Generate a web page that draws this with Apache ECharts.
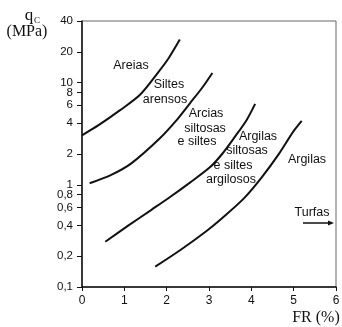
<!DOCTYPE html>
<html>
<head>
<meta charset="utf-8">
<script src="https://cdn.jsdelivr.net/npm/echarts@6/dist/echarts.min.js"></script>
<style>
  html, body { margin: 0; padding: 0; background: #fff; }
  #chart { width: 342px; height: 327px; }
</style>
</head>
<body>
<div id="chart"></div>
<script>
// valores (FR em %, qc em MPa)
var xTicks = [0, 1, 2, 3, 4, 5, 6];
var yTicks = [0.1, 0.2, 0.4, 0.6, 0.8, 1, 2, 4, 6, 8, 10, 20, 40];

var areiasX = [0, 0.40, 0.90, 1.37, 1.80, 2.05, 2.31];
var areiasY = [3.05, 3.85, 5.37, 7.59, 12.6, 17.4, 26.3];

var siltesX = [0.18, 0.69, 1.165, 1.84, 2.24, 2.55, 2.83, 3.08];
var siltesY = [1.035, 1.25, 1.62, 2.85, 4.31, 6.27, 8.79, 12.4];

var arciasX = [0.55, 1.09, 1.64, 2.08, 2.55, 3.02, 3.31, 3.61, 3.89, 4.09];
var arciasY = [0.277, 0.398, 0.569, 0.759, 1.05, 1.48, 2.0, 2.94, 4.31, 6.18];

var argilasX = [1.73, 2.35, 2.95, 3.30, 3.83, 4.25, 4.66, 4.99, 5.19];
var argilasY = [0.158, 0.234, 0.355, 0.468, 0.741, 1.19, 2.03, 3.31, 4.22];

function logPts(xs, ys) {
    return xs.map(function (x, i) { return [x, Math.log10(ys[i])]; });
}
function fmt(v) {
    var n = Math.pow(10, v);
    var s = n >= 1 ? String(Math.round(n)) : String(Math.round(n * 10) / 10);
    return s.replace('.', ',');
}

var sans = "'Liberation Sans', Arial, sans-serif";
var serif = "'Liberation Serif', 'Times New Roman', serif";
var yMin = Math.log10(0.1), yMax = Math.log10(40);
var yLog = yTicks.map(function (v) { return Math.log10(v); });

function curva(nome, xs, ys) {
    return {
        name: nome, type: 'line', smooth: 0.3, symbol: 'none',
        lineStyle: { color: '#111', width: 2 },
        data: logPts(xs, ys)
    };
}
function txt(t, x, y) {
    return { type: 'text', x: x, y: y,
        style: { text: t, font: '12.5px ' + sans, fill: '#111', align: 'center', verticalAlign: 'middle' } };
}

var myChart = echarts.init(document.getElementById('chart'));
var option = {
    backgroundColor: '#fff',
    animation: false,
    grid: { left: 82, right: 6, top: 21, bottom: 40, show: true, borderColor: '#666', borderWidth: 1, outerBoundsMode: 'none' },
    xAxis: {
        type: 'value', min: 0, max: 6, interval: 1,
        axisLine: { onZero: false, lineStyle: { color: '#111', width: 1.5 } },
        axisTick: { length: 4, lineStyle: { color: '#111' } },
        axisLabel: { color: '#111', fontFamily: sans, fontSize: 12, margin: 8 },
        splitLine: { show: false }
    },
    yAxis: {
        type: 'value', min: yMin, max: yMax,
        axisLine: { show: true, onZero: false, lineStyle: { color: '#111', width: 1.5 } },
        axisTick: { show: true, length: 5, customValues: yLog, lineStyle: { color: '#111' } },
        axisLabel: { color: '#111', fontFamily: sans, fontSize: 11.5, margin: 9, customValues: yLog, formatter: fmt },
        splitLine: { show: false }
    },
    series: [
        curva('Areias', areiasX, areiasY),
        curva('Siltes arensos', siltesX, siltesY),
        curva('Arcias siltosas', arciasX, arciasY),
        curva('Argilas siltosas', argilasX, argilasY)
    ],
    graphic: [
        { type: 'text', x: 29, y: 24, style: { text: 'q', font: '17px ' + serif, fill: '#111', align: 'center', verticalAlign: 'bottom' } },
        { type: 'text', x: 37, y: 25.5, style: { text: 'C', font: '9px ' + serif, fill: '#111', align: 'center', verticalAlign: 'bottom' } },
        { type: 'text', x: 27, y: 32, style: { text: '(MPa)', font: '16px ' + serif, fill: '#111', align: 'center', verticalAlign: 'middle' } },
        { type: 'text', x: 316, y: 318, style: { text: 'FR (%)', font: '16px ' + serif, fill: '#111', align: 'center', verticalAlign: 'middle' } },
        txt('Areias', 131, 66),
        txt('Siltes', 169, 85),
        txt('arensos', 165, 100),
        txt('Arcias', 206, 114),
        txt('siltosas', 205, 129),
        txt('e siltes', 197, 142),
        txt('Argilas', 258, 137),
        txt('siltosas', 247, 151),
        txt('e siltes', 233, 166),
        txt('argilosos', 231, 180),
        txt('Argilas', 307, 160),
        txt('Turfas', 312, 213),
        { type: 'line', shape: { x1: 303, y1: 223, x2: 330, y2: 223 }, style: { stroke: '#111', lineWidth: 1.5 } },
        { type: 'polygon', shape: { points: [[334, 223], [328, 220.5], [328, 225.5]] }, style: { fill: '#111' } }
    ]
};
myChart.setOption(option);
</script>
</body>
</html>
